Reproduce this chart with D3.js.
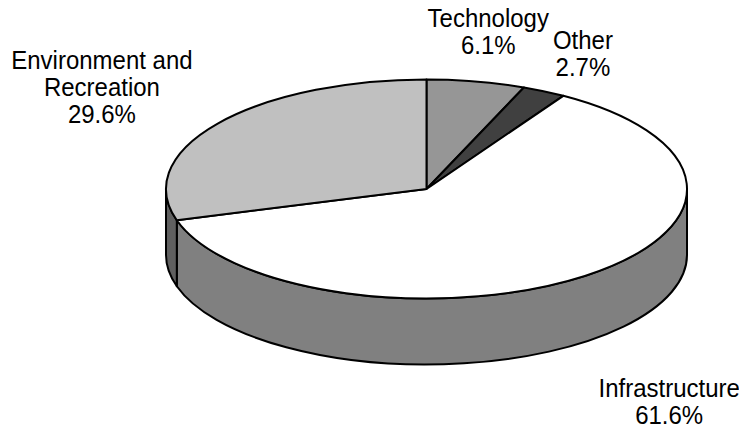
<!DOCTYPE html>
<html>
<head>
<meta charset="utf-8">
<script src="https://cdn.jsdelivr.net/npm/d3@7"></script>
<style>
  body { margin: 0; background: #fff; }
  svg { display: block; }
  text { font-family: "Liberation Sans", Arial, sans-serif; fill: #000; }
</style>
</head>
<body>
<script>
// Slice data, in drawing order (clockwise from 12 o'clock)
const categories = ["Technology", "Other", "Infrastructure", "Environment and Recreation"];
const labelLines = [["Technology"], ["Other"], ["Infrastructure"], ["Environment and", "Recreation"]];
const shares = [6.1, 2.7, 61.6, 29.6];
const topColors = ["#969696", "#404040", "#ffffff", "#c0c0c0"];

const width = 739, height = 428;
const cx = 426.5, cy = 189;      // centre of the top face
const rx = 260.5, ry = 109.5;    // top face ellipse radii
const depth = 66;                // thickness of the pie
const fontSize = 24, lineH = 25, stretchY = 1.08;

// small hand nudges so the labels sit where Excel put them
const labelNudge = {
    "Technology": [-8, 2],
    "Other": [5, 9],
    "Infrastructure": [14, 17],
    "Environment and Recreation": [-7, 3]
};

const svg = d3.select("body").append("svg")
    .attr("width", width)
    .attr("height", height);

const pie = d3.pie().sort(null).value(d => d.value);
const arcs = pie(categories.map((c, i) => ({
    name: c, value: shares[i], lines: labelLines[i], color: topColors[i]
})));

// projection of an angle (d3 convention: 0 at top, clockwise) onto the ellipse
const px = a => cx + rx * Math.sin(a);
const py = a => cy - ry * Math.cos(a);

function ellArc(a0, a1, dy, sweep) {
    const large = Math.abs(a1 - a0) > Math.PI ? 1 : 0;
    return `A${rx},${ry} 0 ${large} ${sweep} ${px(a1)},${py(a1) + dy}`;
}

// outer side walls (only the front half is visible)
const walls = svg.append("g");
arcs.forEach(d => {
    const a0 = Math.max(d.startAngle, Math.PI / 2);
    const a1 = Math.min(d.endAngle, Math.PI * 3 / 2);
    if (a1 <= a0) return;
    const p = `M${px(a0)},${py(a0)} ` + ellArc(a0, a1, 0, 1) +
        ` L${px(a1)},${py(a1) + depth} ` +
        `A${rx},${ry} 0 0 0 ${px(a0)},${py(a0) + depth} Z`;
    walls.append("path")
        .attr("d", p)
        .attr("fill", d3.interpolateRgb(d.data.color, "#000")(0.5))
        .attr("stroke", "#000")
        .attr("stroke-width", 2)
        .attr("stroke-linejoin", "round");
});

// top faces
svg.append("g")
    .selectAll("path")
    .data(arcs)
    .join("path")
    .attr("d", d => `M${cx},${cy} L${px(d.startAngle)},${py(d.startAngle)} ` +
        ellArc(d.startAngle, d.endAngle, 0, 1) + " Z")
    .attr("fill", d => d.data.color)
    .attr("stroke", "#000")
    .attr("stroke-width", 2)
    .attr("stroke-linejoin", "round");

// labels placed just outside each slice's mid angle
const gx = 45, gy = 25;
const labels = svg.append("g")
    .attr("font-size", fontSize)
    .attr("text-anchor", "middle");

arcs.forEach(d => {
    const a = (d.startAngle + d.endAngle) / 2;
    const lines = d.data.lines.concat([d.data.value.toFixed(1) + "%"]);
    const g = labels.append("g");
    const t = g.append("text");
    lines.forEach((s, i) => {
        t.append("tspan").attr("x", 0).attr("y", i * lineH).text(s);
    });
    const bb = t.node().getBBox();
    const w = bb.width, h = bb.height * stretchY;
    const sx = Math.sin(a), sy = -Math.cos(a);
    const nudge = labelNudge[d.data.name];
    const bx = px(a) + sx * (gx + w / 2) + nudge[0];
    const by = py(a) + (sy > 0 ? depth : 0) + sy * (gy + h / 2) + nudge[1];
    g.attr("transform",
        `translate(${bx},${by}) scale(1,${stretchY}) translate(${-(bb.x + bb.width / 2)},${-(bb.y + bb.height / 2)})`);
});
</script>
</body>
</html>
